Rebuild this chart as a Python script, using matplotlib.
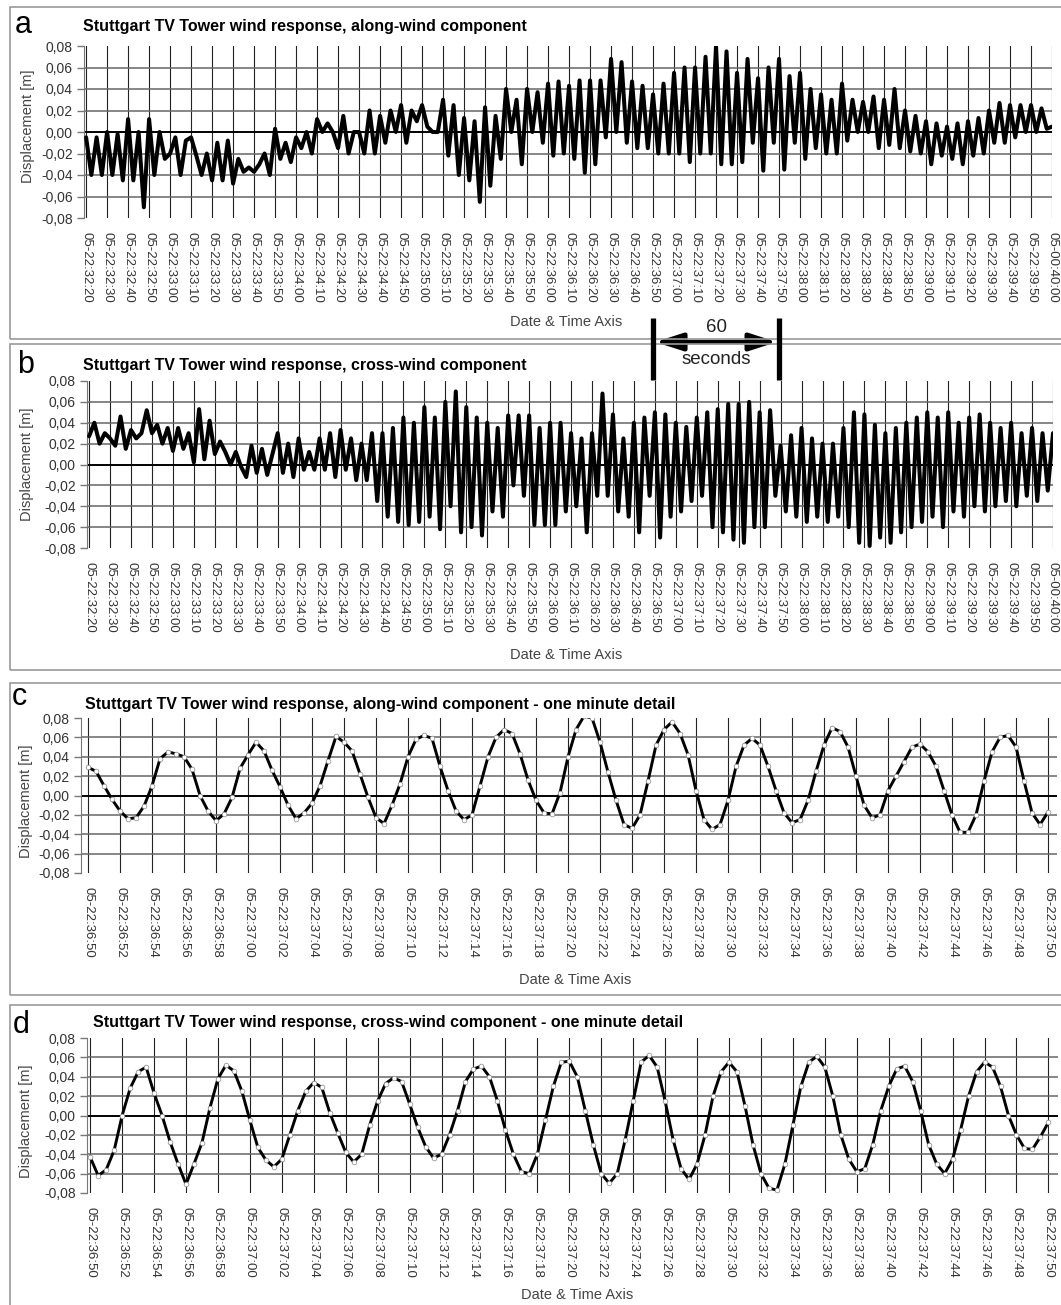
import numpy as np
import matplotlib
matplotlib.use("Agg")
import matplotlib.pyplot as plt
from matplotlib.patches import Rectangle
from matplotlib.lines import Line2D
from matplotlib.transforms import blended_transform_factory

plt.rcParams['font.family'] = ['Liberation Sans', 'DejaVu Sans']

W, H = 1061, 1305

# long records, one reading every 2.5 s from 05-22:32:20 to 05-00:40:00
long_step = 2.5
along_wind = [
    -0.005, -0.040, -0.005, -0.040,   # 32:20
    0.000, -0.040, -0.002, -0.045,
    0.012, -0.045, 0.000, -0.070,
    0.012, -0.040, 0.000, -0.025,
    -0.020, -0.005, -0.040, -0.008,   # 33:00
    -0.005, -0.022, -0.040, -0.020,
    -0.045, -0.010, -0.045, -0.008,
    -0.048, -0.025, -0.037, -0.033,
    -0.037, -0.030, -0.020, -0.040,
    0.003, -0.025, -0.010, -0.028,
    -0.005, -0.015, 0.000, -0.020,    # 34:00
    0.012, 0.000, 0.008, 0.000,
    -0.015, 0.015, -0.020, 0.000,
    0.000, -0.020, 0.020, -0.020,
    0.015, -0.010, 0.020, 0.000,
    0.025, -0.010, 0.020, 0.010,
    0.025, 0.005, 0.000, 0.000,       # 35:00
    0.030, -0.022, 0.025, -0.040,
    0.013, -0.045, 0.010, -0.065,
    0.023, -0.050, 0.015, -0.025,
    0.040, 0.000, 0.030, -0.030,
    0.040, 0.000, 0.037, -0.010,
    0.045, -0.022, 0.047, -0.020,     # 36:00
    0.043, -0.025, 0.048, -0.038,
    0.048, -0.030, 0.048, -0.005,
    0.068, 0.000, 0.065, -0.010,
    0.047, -0.015, 0.043, -0.015,
    0.035, -0.020, 0.045, -0.020,
    0.055, -0.020, 0.060, -0.028,     # 37:00
    0.060, -0.020, 0.070, -0.020,
    0.080, -0.030, 0.075, -0.030,
    0.055, -0.028, 0.068, -0.010,
    0.050, -0.036, 0.060, -0.010,
    0.068, -0.035, 0.052, -0.010,
    0.055, -0.025, 0.040, -0.015,     # 38:00
    0.035, -0.020, 0.030, -0.020,
    0.045, -0.008, 0.030, 0.000,
    0.028, 0.000, 0.033, -0.015,
    0.030, -0.012, 0.040, -0.015,
    0.020, -0.018, 0.015, -0.020,
    0.010, -0.030, 0.008, -0.022,     # 39:00
    0.005, -0.025, 0.008, -0.030,
    0.010, -0.022, 0.013, -0.020,
    0.020, -0.010, 0.027, -0.010,
    0.025, -0.005, 0.025, 0.000,
    0.025, 0.000, 0.022, 0.003,
    0.005,                            # 40:00
]
cross_wind = [
    0.027, 0.040, 0.020, 0.030,       # 32:20
    0.025, 0.018, 0.046, 0.015,
    0.033, 0.025, 0.030, 0.052,
    0.030, 0.038, 0.020, 0.035,
    0.013, 0.035, 0.015, 0.030,       # 33:00
    0.002, 0.053, 0.005, 0.042,
    0.010, 0.022, 0.012, 0.000,
    0.012, -0.002, -0.012, 0.018,
    -0.008, 0.015, -0.010, 0.010,
    0.030, -0.008, 0.020, -0.012,
    0.025, -0.005, 0.012, -0.005,     # 34:00
    0.025, -0.005, 0.030, -0.012,
    0.033, -0.005, 0.025, -0.015,
    0.020, -0.015, 0.030, -0.035,
    0.030, -0.050, 0.035, -0.055,
    0.045, -0.058, 0.040, -0.055,
    0.055, -0.050, 0.045, -0.062,     # 35:00
    0.060, -0.040, 0.070, -0.065,
    0.055, -0.060, 0.045, -0.068,
    0.040, -0.045, 0.035, -0.050,
    0.047, -0.020, 0.047, -0.030,
    0.047, -0.058, 0.035, -0.058,
    0.040, -0.058, 0.040, -0.045,     # 36:00
    0.030, -0.040, 0.025, -0.065,
    0.030, -0.030, 0.068, -0.030,
    0.048, -0.045, 0.025, -0.050,
    0.040, -0.065, 0.045, -0.030,
    0.050, -0.070, 0.048, -0.050,
    0.040, -0.045, 0.036, -0.035,     # 37:00
    0.045, -0.030, 0.050, -0.060,
    0.053, -0.065, 0.058, -0.072,
    0.058, -0.075, 0.060, -0.060,
    0.050, -0.060, 0.052, -0.030,
    0.018, -0.045, 0.028, -0.050,
    0.035, -0.055, 0.025, -0.050,     # 38:00
    0.020, -0.055, 0.020, -0.050,
    0.035, -0.060, 0.050, -0.075,
    0.048, -0.078, 0.038, -0.070,
    0.030, -0.075, 0.035, -0.065,
    0.040, -0.060, 0.045, -0.055,
    0.050, -0.050, 0.045, -0.060,     # 39:00
    0.050, -0.045, 0.040, -0.050,
    0.045, -0.040, 0.048, -0.045,
    0.040, -0.040, 0.035, -0.035,
    0.040, -0.040, 0.030, -0.030,
    0.035, -0.035, 0.030, -0.025,
    0.030,                            # 40:00
]

# one minute detail, one reading every 0.5 s from 05-22:36:50 to 05-22:37:50
detail_step = 0.5
along_detail = [
    0.029, 0.025, 0.010, -0.004, -0.016, -0.024, -0.023, -0.011, 0.010, 0.038,
    0.045, 0.043, 0.040, 0.027, 0.000, -0.016, -0.026, -0.019, -0.002, 0.028,
    0.042, 0.055, 0.046, 0.026, 0.009, -0.010, -0.024, -0.018, -0.008, 0.010,
    0.036, 0.061, 0.055, 0.046, 0.022, -0.002, -0.023, -0.029, -0.010, 0.012,
    0.040, 0.058, 0.062, 0.059, 0.030, 0.005, -0.016, -0.025, -0.020, 0.010,
    0.040, 0.060, 0.068, 0.064, 0.043, 0.016, -0.005, -0.018, -0.019, 0.003,
    0.040, 0.068, 0.082, 0.080, 0.055, 0.024, -0.005, -0.030, -0.034, -0.020,
    0.015, 0.052, 0.068, 0.076, 0.064, 0.042, 0.005, -0.025, -0.035, -0.030,
    -0.005, 0.030, 0.052, 0.059, 0.052, 0.030, 0.005, -0.018, -0.028, -0.025,
    -0.005, 0.025, 0.052, 0.070, 0.066, 0.050, 0.020, -0.010, -0.023, -0.020,
    0.005, 0.020, 0.035, 0.050, 0.053, 0.045, 0.030, 0.005, -0.020, -0.038,
    -0.038, -0.020, 0.015, 0.045, 0.060, 0.062, 0.050, 0.015, -0.018, -0.030,
    -0.017,
]
cross_detail = [
    -0.043, -0.062, -0.056, -0.036, 0.000, 0.028, 0.045, 0.050, 0.023, 0.000,
    -0.027, -0.050, -0.071, -0.050, -0.028, 0.008, 0.038, 0.052, 0.046, 0.025,
    -0.005, -0.033, -0.046, -0.053, -0.045, -0.020, 0.005, 0.025, 0.034, 0.029,
    0.003, -0.018, -0.038, -0.048, -0.040, -0.010, 0.015, 0.033, 0.039, 0.035,
    0.012, -0.012, -0.032, -0.044, -0.040, -0.020, 0.005, 0.035, 0.048, 0.051,
    0.040, 0.015, -0.015, -0.040, -0.058, -0.060, -0.040, -0.005, 0.030, 0.055,
    0.056, 0.040, 0.005, -0.030, -0.060, -0.070, -0.060, -0.025, 0.015, 0.055,
    0.062, 0.050, 0.015, -0.025, -0.055, -0.066, -0.050, -0.020, 0.020, 0.045,
    0.055, 0.045, 0.010, -0.030, -0.060, -0.075, -0.077, -0.050, -0.010, 0.030,
    0.055, 0.061, 0.050, 0.020, -0.020, -0.045, -0.058, -0.055, -0.030, 0.005,
    0.030, 0.048, 0.051, 0.035, 0.005, -0.030, -0.050, -0.060, -0.045, -0.015,
    0.020, 0.045, 0.055, 0.050, 0.030, 0.000, -0.020, -0.034, -0.035, -0.022,
    -0.007,
]

long_ticks = list(range(0, 461, 10))
long_labels = ["05-22:%02d:%02d" % (32 + (20 + s) // 60, (20 + s) % 60)
               for s in long_ticks[:-1]] + ["05-00:40:00"]
detail_ticks = list(range(0, 61, 2))
detail_labels = ["05-22:%02d:%02d" % (36 + (50 + s) // 60, (50 + s) % 60)
                 for s in detail_ticks]
y_ticks = [-0.08, -0.06, -0.04, -0.02, 0.0, 0.02, 0.04, 0.06, 0.08]
y_labels = [("%.2f" % v).replace(".", ",") for v in y_ticks]

titles = ["Stuttgart TV Tower wind response, along-wind component",
          "Stuttgart TV Tower wind response, cross-wind component",
          "Stuttgart TV Tower wind response, along-wind component - one minute detail",
          "Stuttgart TV Tower wind response, cross-wind component - one minute detail"]


def fx(px):
    return px / W


def fy(py):
    return 1 - py / H


fig = plt.figure(figsize=(W / 100, H / 100), dpi=100)

# panel frames
for top, bottom in [(7, 339), (344, 670), (683, 995), (1005, 1315)]:
    fig.add_artist(Rectangle((fx(10), fy(bottom)), fx(1070 - 10), (bottom - top) / H,
                             transform=fig.transFigure, fill=False,
                             edgecolor='#9a9a9a', lw=1.2))


def panel(x0, y0, x1, y1, xlim, ticks, labels):
    ax = fig.add_axes([fx(x0), fy(y1), (x1 - x0) / W, (y1 - y0) / H])
    ax.set_xlim(*xlim)
    ax.set_ylim(-0.08, 0.08)
    ax.set_xticks(ticks)
    ax.set_xticklabels(labels, rotation=-90, fontsize=9.5, color='#333')
    ax.set_yticks(y_ticks)
    ax.set_yticklabels(y_labels, fontsize=10, color='#333')
    ax.tick_params(axis='x', length=0, pad=10)
    ax.tick_params(axis='y', length=5, width=1, color='#777', pad=3)
    for s in ['top', 'right', 'bottom']:
        ax.spines[s].set_visible(False)
    ax.spines['left'].set_color('#777')
    ax.patch.set_alpha(0)
    for v in ticks:
        ax.axvline(v, color='#222', lw=0.8, zorder=1)
    for v in y_ticks[1:-1]:
        if v == 0:
            ax.axhline(v, color='black', lw=1.4, zorder=1)
        else:
            ax.axhline(v, color='#666', lw=1.1, zorder=1)
    return ax


ax_a = panel(84, 46, 1052, 218, (-1, 460), long_ticks, long_labels)
ax_b = panel(87, 381, 1053, 548, (-1, 460), long_ticks, long_labels)
ax_c = panel(81, 718, 1057, 873, (-0.44, 60.56), detail_ticks, detail_labels)
ax_d = panel(87, 1038, 1058, 1193, (-0.2, 60.6), detail_ticks, detail_labels)

t_long = np.arange(len(along_wind)) * long_step
for ax, vals in [(ax_a, along_wind), (ax_b, cross_wind)]:
    ax.plot(t_long, vals, color='black', lw=2.9, zorder=3,
            solid_joinstyle='round', solid_capstyle='round')

t_det = np.arange(len(along_detail)) * detail_step
for ax, vals in [(ax_c, along_detail), (ax_d, cross_detail)]:
    ax.plot(t_det, vals, color='black', lw=2.1, zorder=3, marker='o', ms=3.4,
            mfc='white', mec='#888', mew=0.5)

# titles, panel letters, axis labels
for (tx, ty), title in zip([(83, 31), (83, 370), (85, 709), (93, 1027)], titles):
    fig.text(fx(tx), fy(ty), title, fontsize=11.5, weight='bold', va='baseline')
for (lx, ly), letter in zip([(15, 33), (17, 373), (12, 705), (13, 1033)], "abcd"):
    fig.text(fx(lx), fy(ly), letter, fontsize=22, va='baseline')
for px, py in [(28, 126), (27, 464), (26, 801), (26, 1121)]:
    fig.text(fx(px), fy(py), "Displacement [m]", rotation=90, ha='center',
             va='center', fontsize=10.5, color='#444')
for px, py in [(566, 322), (566, 655), (575, 980), (577, 1295)]:
    fig.text(fx(px), fy(py), "Date & Time Axis", ha='center', va='center',
             fontsize=10.5, color='#444')

# 60 seconds marker between panels a and b
trans = blended_transform_factory(ax_a.transData, fig.transFigure)
for xs in [270, 330]:
    fig.add_artist(Line2D([xs, xs], [fy(318), fy(380)], transform=trans,
                          color='black', lw=3.8, solid_capstyle='butt'))
ax_a.annotate('', xy=(329, fy(342)), xytext=(271, fy(342)), xycoords=trans,
              textcoords=trans, annotation_clip=False,
              arrowprops=dict(arrowstyle='<|-|>,head_length=0.75,head_width=0.24',
                              color='black', lw=3.2, mutation_scale=22,
                              shrinkA=0, shrinkB=0))
for label, py in [("60", 327), ("seconds", 359)]:
    t = fig.text(0, 0, label, ha='center', va='center', fontsize=13.5, color='#222')
    t.set_transform(trans)
    t.set_position((300, fy(py)))

fig.savefig("out.png", dpi=100)
